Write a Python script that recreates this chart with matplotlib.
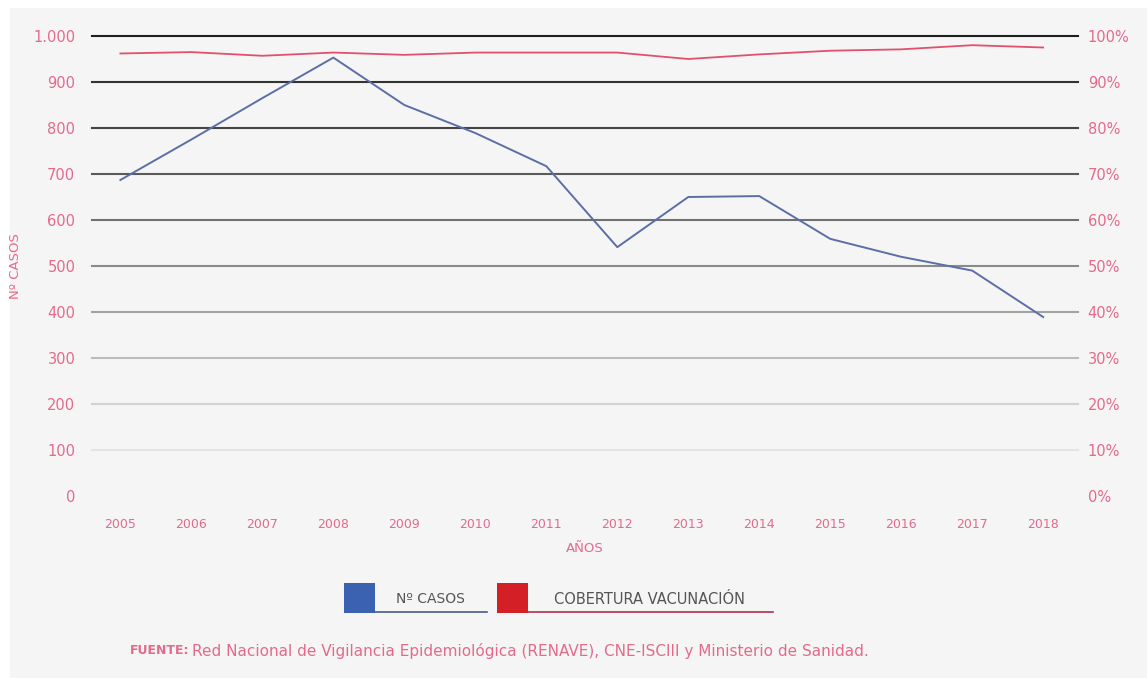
import matplotlib
matplotlib.use("Agg")
import matplotlib.pyplot as plt
from matplotlib.patches import Rectangle
from matplotlib.lines import Line2D

years = [2005, 2006, 2007, 2008, 2009, 2010, 2011, 2012, 2013, 2014, 2015, 2016, 2017, 2018]
casos = [687, 775, 865, 953, 850, 789, 717, 541, 650, 652, 559, 520, 490, 389]
cobertura = [96.2, 96.5, 95.7, 96.4, 95.9, 96.4, 96.4, 96.4, 95.0, 96.0, 96.8, 97.1, 98.0, 97.5]
left_ticks = [0, 100, 200, 300, 400, 500, 600, 700, 800, 900, 1000]
left_labels = ["0", "100", "200", "300", "400", "500", "600", "700", "800", "900", "1.000"]
right_ticks = [0, 10, 20, 30, 40, 50, 60, 70, 80, 90, 100]
right_labels = ["0%", "10%", "20%", "30%", "40%", "50%", "60%", "70%", "80%", "90%", "100%"]
grid_colors = ["#f5f5f5", "#e4e4e4", "#d2d2d2", "#bcbcbc", "#a2a2a2", "#8a8a8a",
               "#707070", "#5a5a5a", "#444444", "#333333", "#1e1e1e"]

PINK = "#e46a8c"
BLUE = "#5b6fa6"
RED = "#e2506e"
FONT = "DejaVu Sans"

W, H = 1147, 678
fig = plt.figure(figsize=(W / 100, H / 100), dpi=100)
fig.patch.set_facecolor("white")
fig.add_artist(Rectangle((10 / W, 0), 1, 1 - 8 / H, transform=fig.transFigure,
                         facecolor="#f5f5f5", edgecolor="none", zorder=-10))

ax = fig.add_axes([92 / W, 1 - 496 / H, (1078 - 92) / W, (496 - 36) / H])
ax.set_facecolor("none")
for s in ax.spines.values():
    s.set_visible(False)
ax.set_xlim(2004.6, 2018.49)
ax.set_ylim(0, 1000)

for t, c in zip(left_ticks, grid_colors):
    if t > 0:
        ax.axhline(t, color=c, lw=1.5, zorder=1, clip_on=False)

ax.plot(years, casos, color=BLUE, lw=1.4, zorder=3)

ax.set_yticks(left_ticks)
ax.set_yticklabels(left_labels, fontsize=10.5, color=PINK, family=FONT)
ax.set_xticks(years)
ax.set_xticklabels([str(y) for y in years], fontsize=9, color=PINK, family=FONT)
ax.tick_params(axis="y", length=0, pad=12)
ax.tick_params(axis="x", length=0, pad=16)
ax.set_xlabel("AÑOS", fontsize=9.5, color=PINK, family=FONT, labelpad=8)
ax.set_ylabel("Nº CASOS", fontsize=9.5, color=PINK, family=FONT, labelpad=8)

ax2 = ax.twinx()
for s in ax2.spines.values():
    s.set_visible(False)
ax2.set_ylim(0, 100)
ax2.plot(years, cobertura, color=RED, lw=1.3, zorder=3)
ax2.set_yticks(right_ticks)
ax2.set_yticklabels(right_labels, fontsize=10.5, color=PINK, family=FONT)
ax2.tick_params(axis="y", length=0, pad=7)

# legend
def fx(px):
    return px / W

def fy(py):
    return 1 - py / H

fig.add_artist(Rectangle((fx(344), fy(613)), 31 / W, 30 / H, transform=fig.transFigure,
                         facecolor="#3a62b0", edgecolor="none"))
fig.add_artist(Line2D([fx(375), fx(487)], [fy(612), fy(612)], transform=fig.transFigure,
                      color="#4a5a8a", lw=1.2))
fig.text(fx(430), fy(599), "Nº CASOS", fontsize=10, color="#555555", family=FONT,
         ha="center", va="center")
fig.add_artist(Rectangle((fx(497), fy(613)), 31 / W, 30 / H, transform=fig.transFigure,
                         facecolor="#d41f26", edgecolor="none"))
fig.add_artist(Line2D([fx(528), fx(773)], [fy(612), fy(612)], transform=fig.transFigure,
                      color="#b03050", lw=1.2))
fig.text(fx(650), fy(599), "COBERTURA VACUNACIÓN", fontsize=10.5, color="#555555", family=FONT,
         ha="center", va="center")

t1 = fig.text(fx(130), fy(651), "FUENTE:", fontsize=9, color=PINK, family=FONT,
              fontweight="bold", ha="left", va="center")
fig.canvas.draw()
bb = t1.get_window_extent()
fig.text(bb.x1 / W + 3 / W, fy(651),
         "Red Nacional de Vigilancia Epidemiológica (RENAVE), CNE-ISCIII y Ministerio de Sanidad.",
         fontsize=11, color=PINK, family=FONT, ha="left", va="center")

fig.savefig("out.png", dpi=100, facecolor=fig.get_facecolor())
